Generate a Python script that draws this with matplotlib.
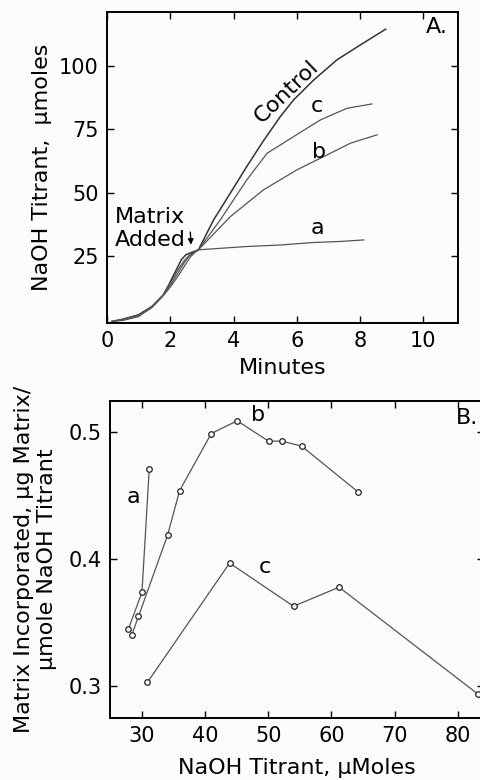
import matplotlib
matplotlib.use("Agg")
import matplotlib.pyplot as plt

plt.rcParams['font.family'] = ['DejaVu Sans']

# Panel A: NaOH titrant (umoles) vs minutes
ctrl_t = [0.15, 0.5, 0.99, 1.42, 1.78, 1.95, 2.15, 2.35, 2.5, 2.7, 2.89,
          3.37, 3.9, 4.42, 4.95, 5.48, 5.9, 6.54, 7.27, 8.01, 8.81]
ctrl_v = [-0.9, 0.0, 1.7, 5.0, 9.6, 13.5, 18.5, 23.5, 25.5, 26.5, 27.4,
          39.2, 49.8, 60.3, 70.5, 80.0, 86.6, 94.5, 102.4, 108.3, 114.5]
c_t = [0.15, 0.5, 0.99, 1.42, 1.78, 2.0, 2.21, 2.42, 2.58, 2.75, 2.89,
       3.58, 4.42, 5.06, 5.9, 6.75, 7.59, 8.38]
c_v = [-0.9, 0.0, 1.7, 5.0, 9.6, 14.2, 18.8, 22.8, 25.0, 26.5, 27.4,
       39.2, 55.0, 65.5, 72.1, 78.7, 83.3, 85.0]
b_t = [0.15, 0.5, 0.99, 1.42, 1.78, 2.05, 2.3, 2.5, 2.65, 2.8, 2.89,
       3.9, 4.95, 6.01, 6.85, 7.7, 8.54]
b_v = [-0.9, -0.5, 1.0, 4.6, 9.3, 13.5, 18.0, 22.0, 24.8, 26.6, 27.4,
       40.5, 51.1, 59.0, 64.2, 69.5, 72.8]
a_t = [0.15, 0.5, 0.99, 1.42, 1.78, 2.02, 2.25, 2.45, 2.6, 2.77, 2.89,
       4.42, 5.48, 6.54, 7.38, 8.12]
a_v = [-0.9, -0.2, 1.3, 4.8, 9.4, 13.8, 18.4, 22.5, 25.0, 26.5, 27.4,
       28.7, 29.3, 30.3, 30.7, 31.3]

# Panel B: matrix incorporated vs NaOH titrant
pa_x = [27.9, 30.05, 31.2]
pa_y = [0.345, 0.374, 0.471]
pb_x = [28.4, 29.5, 34.1, 36.0, 41.0, 45.1, 50.05, 52.2, 55.3, 64.2]
pb_y = [0.340, 0.355, 0.419, 0.454, 0.499, 0.509, 0.493, 0.493, 0.489, 0.453]
pc_x = [30.9, 43.9, 54.0, 61.2, 83.1]
pc_y = [0.303, 0.397, 0.363, 0.378, 0.294]

fs = 15
lfs = 16
bg = '#fcfcfa'
line_col = '#555555'

fig = plt.figure(figsize=(4.81, 7.80), dpi=100, facecolor=bg)

# ---- panel A ----
ax1 = fig.add_axes([0.2225, 0.5859, 0.7297, 0.3987], facecolor=bg)
ax1.plot(ctrl_t, ctrl_v, color='#333333', lw=1.1)
ax1.plot(c_t, c_v, color=line_col, lw=0.9)
ax1.plot(b_t, b_v, color=line_col, lw=0.9)
ax1.plot(a_t, a_v, color=line_col, lw=0.9)
ax1.set_xlim(0, 11.1)
ax1.set_ylim(-1.5, 121.3)
ax1.set_xticks([0, 2, 4, 6, 8, 10])
ax1.set_yticks([25, 50, 75, 100])
ax1.set_xlabel("Minutes", fontsize=lfs, labelpad=5)
ax1.set_ylabel("NaOH Titrant,  \u03bcmoles", fontsize=lfs, labelpad=5)
ax1.text(5.69, 89.9, "Control", fontsize=lfs, rotation=44, ha='center', va='center')
ax1.text(6.64, 84, "c", fontsize=lfs, ha='center', va='center')
ax1.text(6.69, 66.2, "b", fontsize=lfs, ha='center', va='center')
ax1.text(6.66, 35.9, "a", fontsize=lfs, ha='center', va='center')
ax1.text(10.44, 115.5, "A.", fontsize=lfs, ha='center', va='center')
ax1.text(0.25, 40.5, "Matrix", fontsize=lfs, ha='left', va='center')
ax1.text(0.25, 31.3, "Added", fontsize=lfs, ha='left', va='center')
ax1.annotate("", xy=(2.66, 28.3), xytext=(2.63, 35.5),
             arrowprops=dict(arrowstyle='-|>', color='black', lw=1.0,
                             mutation_scale=8))

# ---- panel B ----
ax2 = fig.add_axes([0.2287, 0.0801, 0.7775, 0.4058], facecolor=bg)
mk = dict(marker='o', markersize=4, markerfacecolor='white',
          markeredgecolor='#222222', markeredgewidth=0.9, color=line_col, lw=0.9)
ax2.plot(pa_x, pa_y, **mk)
ax2.plot(pb_x, pb_y, **mk)
ax2.plot(pc_x, pc_y, **mk, clip_on=False)
ax2.set_xlim(25, 84.1)
ax2.set_ylim(0.2754, 0.5246)
ax2.set_xticks([30, 40, 50, 60, 70, 80])
ax2.set_yticks([0.3, 0.4, 0.5])
ax2.set_yticklabels(["0.3", "0.4", "0.5"])
ax2.set_xlabel("NaOH Titrant, \u03bcMoles", fontsize=lfs, labelpad=9)
ax2.set_ylabel("Matrix Incorporated, \u03bcg Matrix/\n\u03bcmole NaOH Titrant",
               fontsize=lfs, labelpad=8, linespacing=1.2)
ax2.text(28.7, 0.449, "a", fontsize=lfs, ha='center', va='center')
ax2.text(48.4, 0.5136, "b", fontsize=lfs, ha='center', va='center')
ax2.text(49.5, 0.394, "c", fontsize=lfs, ha='center', va='center')
ax2.text(81.4, 0.511, "B.", fontsize=lfs, ha='center', va='center')

for ax in (ax1, ax2):
    for s in ax.spines.values():
        s.set_linewidth(1.4)
    ax.tick_params(direction='in', top=True, right=True, length=5, width=1,
                   labelsize=fs, pad=6)

fig.savefig("out.png", dpi=100, facecolor=bg)
print("saved out.png")
